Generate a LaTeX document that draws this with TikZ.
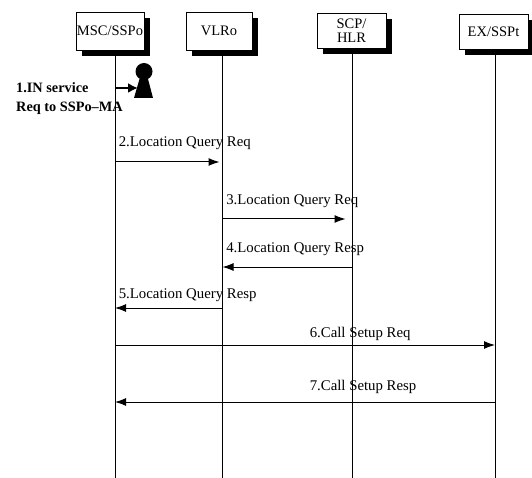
\documentclass[tikz,border=0pt]{standalone}
\usepackage{fontspec}
\setmainfont{Liberation Serif}
\usetikzlibrary{shadows,arrows.meta}

\begin{document}
\begin{tikzpicture}[x=1pt,y=-1pt,>={Latex[length=11pt,width=8pt]},
	ent/.style={draw,fill=white,line width=0.9pt,inner sep=1pt,align=center,
		font=\fontsize{14.5}{14}\selectfont,
		drop shadow={shadow xshift=6pt,shadow yshift=-6pt,fill=black,opacity=1}},
	lbl/.style={anchor=west,font=\fontsize{14.8}{16}\selectfont},
	msg/.style={->,line width=1pt}]
	\useasboundingbox (0,0) rectangle (532,478);
	% entities
	\node[ent,minimum width=68pt,minimum height=38pt] (msc) at (110,31) {MSC/SSPo};
	\node[ent,minimum width=66pt,minimum height=38pt] (vlr) at (219,31) {VLRo};
	\node[ent,minimum width=69pt,minimum height=35pt] (scp) at (351.5,30.5) {SCP/\\HLR};
	\node[ent,minimum width=69pt,minimum height=35pt] (ex) at (493.5,31.5) {EX/SSPt};
	% lifelines
	\coordinate (mscl) at (115,478);
	\coordinate (vlrl) at (222.5,478);
	\coordinate (scpl) at (352.5,478);
	\coordinate (exl) at (495,478);
	\draw[line width=1pt] (mscl |- msc.south) -- (mscl);
	\draw[line width=1pt] (vlrl |- vlr.south) -- (vlrl);
	\draw[line width=1pt] (scpl |- scp.south) -- (scpl);
	\draw[line width=1pt] (exl |- ex.south) -- (exl);
	% user
	\fill (144,71.5) circle (8.5);
	\fill (139.5,79) -- (148,79) -- (153,98) -- (134,98) -- cycle;
	\coordinate (user) at (138,88);
	\draw[->,line width=2.2pt,>={Latex[length=10pt,width=10pt]}] (mscl |- user) -- (user);
	\node[anchor=north west,align=left,inner sep=0pt,font=\bfseries\fontsize{14.3}{19}\selectfont] (req) at (16,82) {1.IN service\\Req to SSPo--MA};
	% messages
	\draw[msg,shorten >=3pt] (mscl |- 0,162) node[lbl,yshift=19pt] {2.Location Query Req} -- (vlrl |- 0,162);
	\draw[msg,shorten >=7pt] (vlrl |- 0,219) node[lbl,yshift=18pt] {3.Location Query Req} -- (scpl |- 0,219);
	\draw[msg] (scpl |- 0,267) -- (vlrl |- 0,267) node[lbl,yshift=18pt] {4.Location Query Resp};
	\draw[msg] (vlrl |- 0,308) -- (mscl |- 0,308) node[lbl,yshift=13pt] {5.Location Query Resp};
	\draw[msg] (mscl |- 0,345) -- node[lbl,xshift=1pt,yshift=11pt] {6.Call Setup Req} (exl |- 0,345);
	\draw[msg] (exl |- 0,402) -- node[lbl,xshift=1pt,yshift=15pt] {7.Call Setup Resp} (mscl |- 0,402);
\end{tikzpicture}
\end{document}
